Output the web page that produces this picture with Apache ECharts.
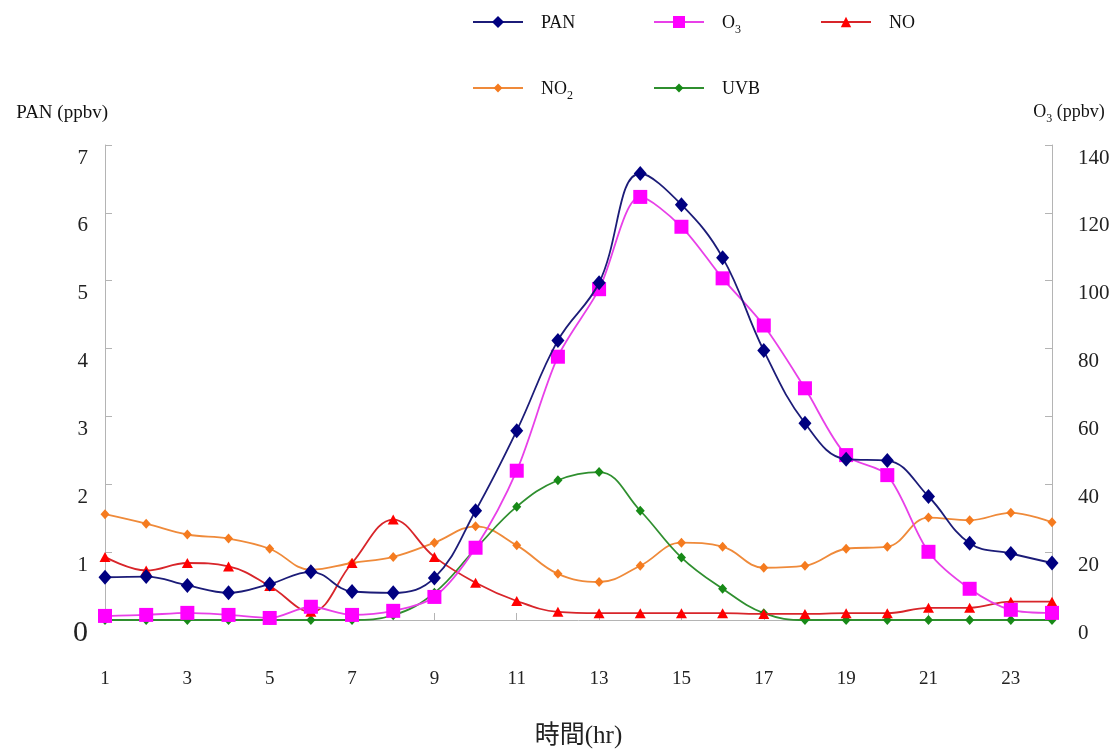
<!DOCTYPE html>
<html>
<head>
<meta charset="utf-8">
<script src="https://cdn.jsdelivr.net/npm/echarts@6/dist/echarts.min.js"></script>
<style>html,body{margin:0;padding:0;background:#fff;}#c{width:1118px;height:754px;}</style>
</head>
<body>
<div id="c"></div>
<script>
var hours = ['1','2','3','4','5','6','7','8','9','10','11','12','13','14','15','16','17','18','19','20','21','22','23','24'];
var pan = [0.63,0.64,0.51,0.40,0.53,0.71,0.42,0.40,0.62,1.61,2.79,4.12,4.97,6.58,6.12,5.34,3.97,2.90,2.37,2.35,1.82,1.13,0.98,0.84];
var o3 = [1.2,1.5,2.1,1.5,0.6,3.9,1.5,2.7,6.8,21.3,44.0,77.6,97.5,124.7,115.9,100.7,86.8,68.3,48.6,42.7,20.1,9.2,3.0,2.1];
var no = [0.93,0.73,0.84,0.79,0.50,0.12,0.84,1.48,0.93,0.55,0.28,0.12,0.10,0.10,0.10,0.10,0.09,0.09,0.10,0.10,0.18,0.18,0.27,0.27];
var no2 = [1.56,1.42,1.26,1.20,1.05,0.74,0.84,0.93,1.14,1.38,1.10,0.68,0.56,0.80,1.14,1.08,0.77,0.80,1.05,1.08,1.51,1.47,1.58,1.44];
var uvb = [0,0,0,0,0,0,0,0.07,0.40,1.05,1.67,2.06,2.18,1.61,0.92,0.46,0.10,0,0,0,0,0,0,0];

var serif = '"Liberation Serif", "Times New Roman", serif';
var axisGray = '#b4b4b4';
var subRich = {
  b: {fontFamily: serif, fontSize: 18, color: '#111', lineHeight: 20, verticalAlign: 'bottom'},
  sub: {fontFamily: serif, fontSize: 12, color: '#111', lineHeight: 20, verticalAlign: 'bottom', padding: [0, 0, -4, 0]}
};
function nameFmt(n) {
  if (n === 'O3') return '{b|O}{sub|3}';
  if (n === 'NO2') return '{b|NO}{sub|2}';
  return '{b|' + n + '}';
}
var chart = echarts.init(document.getElementById('c'));
var legendText = {fontFamily: serif, fontSize: 18, color: '#111', padding: [0, 0, 0, 13], rich: subRich};
function leg(name, left, top, h) {
  return {data: [name], left: left, top: top, itemWidth: 50, itemHeight: h, formatter: nameFmt, textStyle: legendText};
}
var labRich = {a: {fontFamily: serif, fontSize: 21, color: '#222', padding: [26, 0, 0, 0]},
               big: {fontFamily: serif, fontSize: 30, color: '#222', padding: [26, 0, 0, 0]}};
chart.setOption({
  animation: false,
  backgroundColor: '#fff',
  grid: {left: 105, right: 66, top: 145, bottom: 134},
  legend: [
    leg('PAN', 467, 9, 15), leg('O3', 648, 9, 15), leg('NO', 815, 9, 13),
    leg('NO2', 467, 75, 11), leg('UVB', 648, 75, 11)
  ],
  xAxis: {
    type: 'category', data: hours, boundaryGap: false,
    name: '時間(hr)', nameLocation: 'middle', nameGap: 104,
    nameTextStyle: {fontFamily: '"Liberation Serif", "Noto Sans CJK TC", serif', fontSize: 25, color: '#222'},
    axisLine: {lineStyle: {color: axisGray, width: 1}},
    axisTick: {inside: true, interval: 1, length: 7, lineStyle: {color: axisGray}},
    axisLabel: {interval: 1, margin: 50, fontFamily: serif, fontSize: 19, color: '#222'},
    splitLine: {show: false}
  },
  yAxis: [
    {
      type: 'value', min: 0, max: 7, interval: 1, position: 'left',
      name: 'PAN (ppbv)', nameLocation: 'end', nameGap: 22,
      nameTextStyle: {fontFamily: serif, fontSize: 19, color: '#111', align: 'right', padding: [0, -3, 0, 0]},
      axisLine: {show: true, lineStyle: {color: axisGray, width: 1}},
      axisTick: {show: true, inside: true, length: 7, lineStyle: {color: axisGray}},
      axisLabel: {margin: 17, formatter: function (v) { return v === 0 ? '{big|0}' : '{a|' + v + '}'; }, rich: labRich},
      splitLine: {show: false}
    },
    {
      type: 'value', min: 0, max: 140, interval: 20, position: 'right',
      name: '{b|O}{sub|3}{b| (ppbv)}', nameLocation: 'end', nameGap: 24,
      nameTextStyle: {fontFamily: serif, fontSize: 18, color: '#111', align: 'center', padding: [0, 0, 0, 34], rich: subRich},
      axisLine: {show: true, lineStyle: {color: axisGray, width: 1}},
      axisTick: {show: true, inside: true, length: 7, lineStyle: {color: axisGray}},
      axisLabel: {margin: 26, formatter: function (v) { return '{a|' + v + '}'; }, rich: labRich},
      splitLine: {show: false}
    }
  ],
  series: [
    {name: 'NO2', type: 'line', yAxisIndex: 0, data: no2, smooth: 0.4, symbol: 'diamond', symbolSize: [9, 10],
     itemStyle: {color: '#f57b1f'}, lineStyle: {color: '#ef8a3a', width: 1.8}, z: 2},
    {name: 'UVB', type: 'line', yAxisIndex: 0, data: uvb, smooth: 0.4, symbol: 'diamond', symbolSize: [9, 10],
     itemStyle: {color: '#178a17'}, lineStyle: {color: '#2f8f2f', width: 1.8}, z: 2},
    {name: 'NO', type: 'line', yAxisIndex: 0, data: no, smooth: 0.4, symbol: 'triangle', symbolSize: [11, 10],
     itemStyle: {color: '#ff0000'}, lineStyle: {color: '#d8252a', width: 1.8}, z: 3},
    {name: 'O3', type: 'line', yAxisIndex: 1, data: o3, smooth: 0.3, symbol: 'rect', symbolSize: 14,
     itemStyle: {color: '#ff00ff'}, lineStyle: {color: '#e840e8', width: 1.8}, z: 4},
    {name: 'PAN', type: 'line', yAxisIndex: 0, data: pan, smooth: 0.4, symbol: 'diamond', symbolSize: [13, 15],
     itemStyle: {color: '#000080'}, lineStyle: {color: '#1c1c78', width: 1.8}, z: 5}
  ]
});
</script>
</body>
</html>
